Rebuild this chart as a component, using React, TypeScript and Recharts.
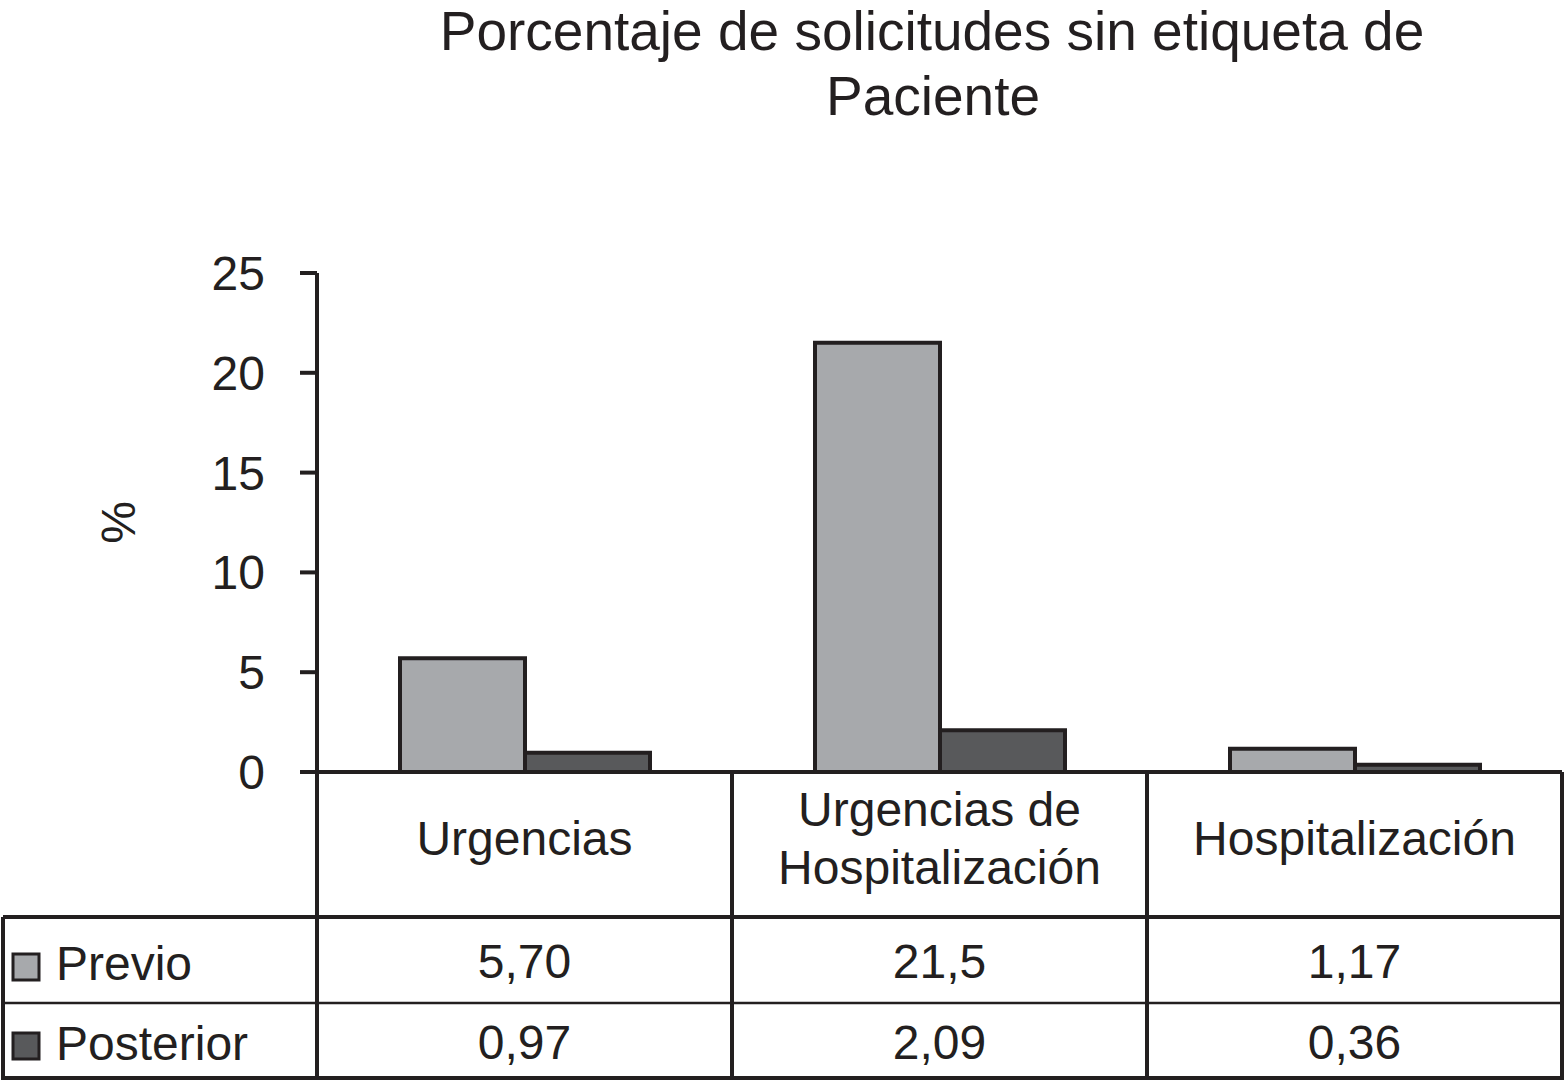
import React from 'react';
import { BarChart, Bar, XAxis, YAxis } from 'recharts';

// Datos
const categories = ['Urgencias', 'Urgencias de Hospitalización', 'Hospitalización'];
const categoryLines = [['Urgencias'], ['Urgencias de', 'Hospitalización'], ['Hospitalización']];
const previo = [5.7, 21.5, 1.17];
const posterior = [0.97, 2.09, 0.36];
const previoLabels = ['5,70', '21,5', '1,17'];
const posteriorLabels = ['0,97', '2,09', '0,36'];
const yTicks = [0, 5, 10, 15, 20, 25];
const seriesNames = ['Previo', 'Posterior'];

const data = categories.map((category, i) => ({
  category,
  previo: previo[i],
  posterior: posterior[i],
}));

const W = 1564;
const H = 1083;
const PLOT_LEFT = 317;
const PLOT_RIGHT = 1562;
const PLOT_TOP = 273;
const PLOT_BOTTOM = 772;
const BAND = (PLOT_RIGHT - PLOT_LEFT) / categories.length;
const TABLE_TOP = 917;
const TABLE_MID = 1003;
const TABLE_BOTTOM = 1078;
const TABLE_LEFT = 3;

const INK = '#231f20';
const LIGHT = '#a7a9ac';
const DARK = '#58595b';
const FONT = '"Liberation Sans", Arial, Helvetica, sans-serif';

function CategoryTick({ x, payload, index }: { x: number; payload: { value: string }; index: number }) {
  const lines = categoryLines[index] ?? [payload.value];
  const mid = 838;
  const lineGap = 58;
  const right = x + BAND / 2;
  const left = x - BAND / 2;
  return (
    <g>
      {index === 0 && (
        <line x1={left} x2={left} y1={PLOT_BOTTOM} y2={TABLE_BOTTOM} stroke={INK} strokeWidth={4} />
      )}
      <line x1={right} x2={right} y1={PLOT_BOTTOM} y2={TABLE_BOTTOM} stroke={INK} strokeWidth={4} />
      {lines.map((ln, k) => (
        <text
          key={k}
          x={x}
          y={mid + (k - (lines.length - 1) / 2) * lineGap}
          textAnchor="middle"
          dominantBaseline="central"
          fontSize={48}
          fontFamily={FONT}
          fill={INK}
        >
          {ln}
        </text>
      ))}
      <text x={x} y={961} textAnchor="middle" dominantBaseline="central" fontSize={48} fontFamily={FONT} fill={INK}>
        {previoLabels[index]}
      </text>
      <text x={x} y={1042} textAnchor="middle" dominantBaseline="central" fontSize={48} fontFamily={FONT} fill={INK}>
        {posteriorLabels[index]}
      </text>
    </g>
  );
}

export default function App() {
  return (
    <div style={{ position: 'absolute', left: 0, top: 0, width: W, height: H, background: '#fff' }}>
      <BarChart
        width={W}
        height={H}
        data={data}
        margin={{ top: PLOT_TOP, right: W - PLOT_RIGHT, left: 0, bottom: 0 }}
        barCategoryGap="20%"
        barGap={0}
      >
        <YAxis
          width={PLOT_LEFT}
          domain={[0, 25]}
          ticks={yTicks}
          interval={0}
          tickSize={17}
          tickMargin={35}
          axisLine={{ stroke: INK, strokeWidth: 4 }}
          tickLine={{ stroke: INK, strokeWidth: 4 }}
          tick={{ fontSize: 48, fill: INK, fontFamily: FONT }}
          label={{
            value: '%',
            angle: -90,
            position: 'insideLeft',
            offset: 118,
            style: { fontSize: 48, fill: INK, fontFamily: FONT, textAnchor: 'middle' },
          }}
        />
        <XAxis
          dataKey="category"
          height={H - PLOT_BOTTOM}
          interval={0}
          tickLine={false}
          axisLine={{ stroke: INK, strokeWidth: 4 }}
          tick={(props: any) => <CategoryTick {...props} />}
        />
        <Bar dataKey="previo" name={seriesNames[0]} fill={LIGHT} stroke={INK} strokeWidth={4} isAnimationActive={false} />
        <Bar dataKey="posterior" name={seriesNames[1]} fill={DARK} stroke={INK} strokeWidth={4} isAnimationActive={false} />
      </BarChart>
      <svg width={W} height={H} style={{ position: 'absolute', left: 0, top: 0, pointerEvents: 'none' }}>
        <text x={932} y={31} textAnchor="middle" dominantBaseline="central" fontSize={55} fontFamily={FONT} fill={INK}>
          Porcentaje de solicitudes sin etiqueta de
        </text>
        <text x={933} y={96} textAnchor="middle" dominantBaseline="central" fontSize={55} fontFamily={FONT} fill={INK}>
          Paciente
        </text>
        {/* marco de la tabla de datos */}
        <line x1={TABLE_LEFT} x2={PLOT_RIGHT + 2} y1={TABLE_TOP} y2={TABLE_TOP} stroke={INK} strokeWidth={4} />
        <line x1={TABLE_LEFT} x2={PLOT_RIGHT} y1={TABLE_MID} y2={TABLE_MID} stroke={INK} strokeWidth={2.5} />
        <line x1={TABLE_LEFT - 2} x2={PLOT_RIGHT + 2} y1={TABLE_BOTTOM} y2={TABLE_BOTTOM} stroke={INK} strokeWidth={4} />
        <line x1={TABLE_LEFT} x2={TABLE_LEFT} y1={TABLE_TOP} y2={TABLE_BOTTOM} stroke={INK} strokeWidth={4} />
        {/* leyenda */}
        <rect x={13} y={954} width={26} height={26} fill={LIGHT} stroke={INK} strokeWidth={3} />
        <text x={56} y={963} dominantBaseline="central" fontSize={48} fontFamily={FONT} fill={INK}>
          {seriesNames[0]}
        </text>
        <rect x={13} y={1033} width={26} height={26} fill={DARK} stroke={INK} strokeWidth={3} />
        <text x={56} y={1043} dominantBaseline="central" fontSize={48} fontFamily={FONT} fill={INK}>
          {seriesNames[1]}
        </text>
      </svg>
    </div>
  );
}
